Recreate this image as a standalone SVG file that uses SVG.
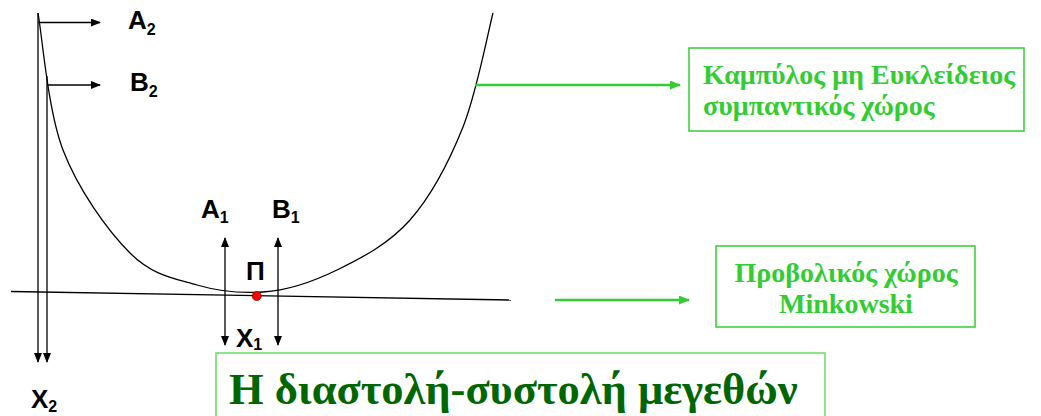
<svg xmlns="http://www.w3.org/2000/svg" width="1041" height="416" viewBox="0 0 1041 416">
<style>
.ln{fill:none;stroke:#000;stroke-width:1.3}
.gln{fill:none;stroke:#33cc33;stroke-width:2.5}
.box{fill:#fff;stroke:#33cc33;stroke-width:1.5}
.lbl{font-family:"Liberation Sans",Arial,sans-serif;font-weight:bold;font-size:26px;fill:#000}
.sub{font-size:16px}
.gt{font-family:"Liberation Serif","Times New Roman",serif;font-weight:bold;font-size:28px;fill:#33cc33}
.tt{font-family:"Liberation Serif","Times New Roman",serif;font-weight:bold;font-size:44.5px;fill:#006600}
</style>
<defs>
<marker id="ah" markerUnits="userSpaceOnUse" markerWidth="10" markerHeight="8" refX="9" refY="4" orient="auto-start-reverse" viewBox="0 0 10 8"><path d="M0,0 L10,4 L0,8 z" fill="#000"/></marker>
<marker id="gh" markerUnits="userSpaceOnUse" markerWidth="11" markerHeight="9" refX="10" refY="4.5" orient="auto" viewBox="0 0 11 9"><path d="M0,0 L11,4.5 L0,9 z" fill="#33cc33"/></marker>
</defs>
<g id="curve">
<path class="ln" d="M38,13 C42.2,35.8 47.7,110 63,150 C78.3,190 107.7,230.5 130,253 C152.3,275.5 174.8,278.5 197,285 C219.2,291.5 239.7,293.5 263,292 C286.3,290.5 312.5,282 337,270 C361.5,258 389,243.8 410,220 C431,196.2 449.2,161.5 463,127 C476.8,92.5 488,32 493,13"/>
</g>
<g id="minkowski-line">
<line class="ln" x1="11" y1="291.5" x2="511" y2="300"/>
</g>
<g id="connectors">
<line class="ln" x1="38" y1="13" x2="38" y2="362" marker-end="url(#ah)"/>
<line class="ln" x1="47" y1="76" x2="47" y2="362" marker-end="url(#ah)"/>
<line class="ln" x1="38" y1="22.5" x2="100" y2="22.5" marker-end="url(#ah)"/>
<line class="ln" x1="47" y1="85" x2="100" y2="85" marker-end="url(#ah)"/>
<line class="ln" x1="225" y1="238" x2="225" y2="345" marker-start="url(#ah)" marker-end="url(#ah)"/>
<line class="ln" x1="278" y1="238" x2="278" y2="345" marker-start="url(#ah)" marker-end="url(#ah)"/>
<line class="gln" x1="475" y1="85" x2="680" y2="85" marker-end="url(#gh)"/>
<line class="gln" x1="555" y1="300" x2="689" y2="300" marker-end="url(#gh)"/>
</g>
<g id="point-P">
<circle cx="256.7" cy="296" r="4.5" fill="#ff0000" stroke="#990000" stroke-width="0.8"/>
<text class="lbl" x="246" y="280">Π</text>
</g>
<g id="label-A2"><text class="lbl" x="128" y="29">A<tspan class="sub" dy="6">2</tspan></text></g>
<g id="label-B2"><text class="lbl" x="130" y="91">B<tspan class="sub" dy="6">2</tspan></text></g>
<g id="label-A1"><text class="lbl" x="201" y="218">A<tspan class="sub" dy="5">1</tspan></text></g>
<g id="label-B1"><text class="lbl" x="272" y="218">B<tspan class="sub" dy="5">1</tspan></text></g>
<g id="label-X1"><text class="lbl" x="236" y="347">Χ<tspan class="sub" dy="3">1</tspan></text></g>
<g id="label-X2"><text class="lbl" x="31" y="408">Χ<tspan class="sub" dy="4">2</tspan></text></g>
<g id="box-curved">
<rect class="box" x="689" y="48" width="335" height="83"/>
<text class="gt" x="703" y="84">Καμπύλος μη Ευκλείδειος</text>
<text class="gt" x="703" y="115">συμπαντικός χώρος</text>
</g>
<g id="box-projective">
<rect class="box" x="716" y="246" width="259" height="81"/>
<text class="gt" x="846" y="282" text-anchor="middle">Προβολικός χώρος</text>
<text class="gt" x="846" y="313" text-anchor="middle">Minkowski</text>
</g>
<g id="box-title">
<rect x="216" y="353" width="609" height="80" fill="#fff" stroke="#66dd66" stroke-width="1.5"/>
<text class="tt" x="229" y="404">Η διαστολή-συστολή μεγεθών</text>
</g>
</svg>
